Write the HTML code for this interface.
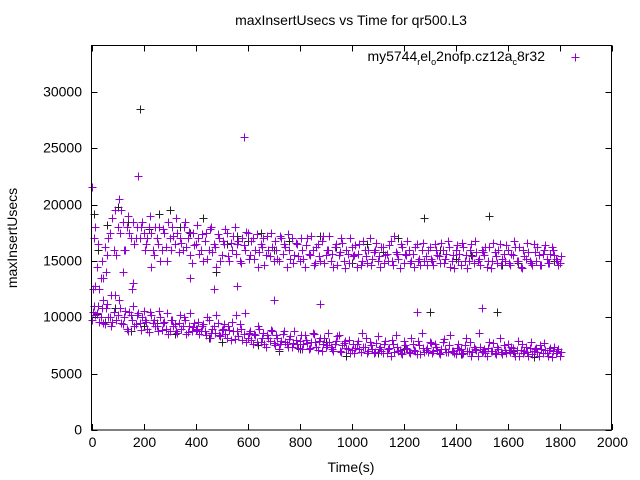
<!DOCTYPE html>
<html><head><meta charset="utf-8"><style>
body{margin:0;background:#fff}
svg{display:block;font-family:"Liberation Sans",sans-serif}
</style></head><body>
<svg id="chart" width="640" height="480" viewBox="0 0 640 480" xmlns="http://www.w3.org/2000/svg">
<text x="351" y="25" font-size="14" text-anchor="middle">maxInsertUsecs vs Time for qr500.L3</text>
<text transform="translate(17,238) rotate(-90)" font-size="14" text-anchor="middle">maxInsertUsecs</text>
<text x="351" y="472" font-size="14" text-anchor="middle">Time(s)</text>
<g id="ticks"></g>
<g id="marks"></g>
<rect x="91.5" y="45.5" width="520" height="384.5" fill="none" stroke="#000" stroke-width="1"/>
<g>
<text x="545" y="61" font-size="14" text-anchor="end">my5744<tspan font-size="9" dy="4">r</tspan><tspan dy="-4">el</tspan><tspan font-size="9" dy="4">o</tspan><tspan dy="-4">2nofp.cz12a</tspan><tspan font-size="9" dy="4">c</tspan><tspan dy="-4">8r32</tspan></text>
<path d="M571.5 57.5h8M575.5 53.5v8" stroke="#9400d3" stroke-width="1"/>
</g>
</svg>
<script>
const xTicks=[0,200,400,600,800,1000,1200,1400,1600,1800,2000];
const yTicks=[0,5000,10000,15000,20000,25000,30000];
const upperY=[21.6,17,14.5,12.5,15,16.2,15.5,17.5,18.8,19.5,18,
17.5,18.5,16,19,17,18.5,17,22.5,18,17.5,
16.5,18,17.5,15.5,17,18,16,17.5,15,17,
18,16.5,17.5,17,16,18.5,17,15.5,17.5,16.5,
17,16,15,17.5,16,18,16.5,14.5,17,15.5,
16.5,17.5,15,16,18,16.5,15,17,16,17.5,
15.5,17,16,14.5,16.5,17,15.5,16,17.5,15,
16,15,17,16.5,14.5,16,17,15.5,16.5,15,
16,14.5,17,15.5,16,14.8,16.5,15,17.2,15.5,
16,15,14.5,16.5,15.5,17,15,16,14.8,16.2,
15.5,14.5,16.5,15,16,14.8,17,15.2,16,15,
14.5,16.2,15.5,15,16.8,14.6,15.8,15.2,16.5,14.8,
15.5,16,15,14.5,16.5,15.2,16,15,14.6,16.2,
15,16.5,15.5,14.8,16,15.2,16.8,14.5,15.5,16,
15,14.6,16.2,15.5,15,16.5,14.8,15.8,15.2,16,
15.5,14.5,16.2,15,15.8,14.8,16.5,15.2,15,16,
14.6,15.5,16.2,15,14.5,16,15.2,15.8,14.8,16.5,
15,15.5,14.6,16,15.2,14.8,16.2,15.5,15,14.8];
const upperY2=[12.5,18,16.5,13.5,11.5,14,17,12,16,15.5,20.5,
19.5,16,18,17.5,12.5,16.5,18,17,18.5,16,
17,19,16,18,16.5,15,17.8,16.2,18.5,16,
17.2,18.8,15.8,16.6,18,16.2,17.6,14.8,16.4,18.2,
15.6,17.4,16.8,15.2,17.8,15.8,16.2,17.4,15,16.8,
17.8,15.4,16.6,17.2,15.6,16.8,14.8,16.4,17.6,15.2,
16.8,15.2,17.4,15.8,16.2,14.6,17.2,15.4,16.2,16.8,
15.2,17.2,15.6,16.2,17.4,15.2,14.8,16.6,15.4,17,
15.2,16.4,15.6,17.2,14.6,16.2,15.4,16.8,14.8,16,
17.2,15.6,16.2,14.6,15.8,16.6,14.4,15.6,17,15.4,
16.4,15.6,14.6,16.8,15.4,16,14.6,15.8,16.6,15.4,
16.2,14.8,15.6,16.4,15,17.2,15.6,14.4,16.2,15.6,
16.8,14.8,15.6,16.2,15,14.6,16.6,15.4,16,15.2,
14.6,16,15.4,16.6,14.8,15.6,16.2,15,14.4,16.4,
15.6,16.6,15,14.4,16,15.4,16.8,15,14.6,15.8,
16.2,15,14.4,16.6,15.4,16,14.6,15.6,16.4,14.8,
15.6,16.8,15,16.2,14.4,15.4,16.6,15,14.6,15.8,
16.2,14.6,15.6,16.4,14.8,15.6,16,15.2,14.6,15.4];
const lowerY=[10.5,10.2,11,10,9.5,10.8,10,9.2,10.5,9.8,11.5,
9.5,10,9,10.5,9.8,9.2,10.2,9.5,10,9.8,
9,10.5,9.5,9.2,8.8,10,9.5,9,8.5,9.8,
9.2,8.8,9.5,9,10,8.5,9.2,8.8,9.5,9,
8.5,9.2,8.8,10,8.2,9,8.6,9.5,8.3,9,
8.5,9.2,8,8.8,10.2,8.3,9,8.5,7.8,8.6,
8,8.5,7.8,9,8.2,7.6,8.4,7.9,8.8,7.5,
8.2,7.6,8.5,7.8,7.4,8.3,7.7,8,7.3,8.4,
7.6,8,7.2,7.8,8.5,7.4,7.9,7,8.2,7.5,
7.8,7.2,7.6,8.3,7,7.5,7.9,7.2,6.8,7.6,
7.3,7.9,6.9,7.4,8.2,7,7.5,6.8,7.7,7.2,
7,7.6,6.8,7.3,8,6.9,7.4,7.1,6.7,7.5,
7.2,6.8,7.6,7,7.9,6.7,7.3,7.1,6.9,7.7,
7,7.4,6.8,7.2,8.1,6.9,7.5,7,6.8,7.3,
7.1,6.7,7.5,7,7.8,6.9,7.2,6.6,7.4,7,
6.8,7.3,7,7.7,6.7,7.2,6.9,7.5,6.8,7.1,
7.4,6.8,7.1,6.6,7.6,7,6.9,7.3,6.7,7.2,
6.9,7.5,6.8,7.1,6.6,7.3,7,6.8,7.2,6.9];
const lowerY2=[9.8,11,10.4,9.6,10.8,9.4,11.2,10,9.6,12,10.2,
10.8,9.4,10.6,8.8,10.2,11,9.4,10.4,8.9,10.6,
9.6,8.7,10.2,9.8,9.2,10.6,8.9,9.6,10.4,8.8,
9.8,9.4,8.6,10.2,9.2,9.8,8.7,10.4,9.1,8.9,
9.6,8.8,9.4,8.4,9.8,8.6,9.2,10.2,8.4,8.9,
9.4,8.2,8.9,9.6,8.1,8.8,9.4,8,10.4,8.2,
8.8,7.6,8.4,9.2,7.8,8.6,7.4,8.2,8.9,7.7,
8.4,7.2,7.9,8.8,7.6,8.1,7.4,8.8,7.6,7.9,
7.2,8.4,7.7,7.3,8.6,7.8,7.1,8.2,7.6,7.4,
8.6,7.4,7,7.9,8.4,6.9,7.7,7.3,8,7.1,
6.8,7.6,7.2,8.6,7.4,6.8,7.8,7.2,6.9,8.3,
7.4,6.8,7.9,7.2,6.6,7.6,8.4,7,6.8,7.9,
7.3,6.9,8.2,7.1,6.7,7.5,8.6,6.9,7.3,7.8,
6.8,7.6,7.1,6.7,7.8,7.2,6.9,8.4,7,6.7,
7.6,7.2,6.8,8.2,7,6.6,7.4,7.1,8.6,6.9,
7.2,6.6,7.8,7,6.8,7.4,8.2,6.7,7.1,7.6,
6.9,7.3,6.6,7.9,7.1,6.8,7.4,6.6,7.8,7,
7.3,6.6,7.2,7.7,6.8,7.1,6.5,7.4,7,6.6];
const purpleExtraX=[585,15,45,75,120,160,230,380,470,560,700,880,1250,1500];
const purpleExtraY=[26,12.8,13.5,12,14,13,14.5,13.5,12.5,12.8,11.5,11.2,10.5,10.8];
const blackX=[10,25,60,100,140,185,220,260,300,340,380,430,480,520,560,600,650,700,760,820,880,940,1000,1060,1120,1180,1280,1340,1400,1460,1530,1580,1640,1700,1780,
20,50,90,150,200,250,320,400,450,500,580,640,720,800,900,980,1100,1200,1300,1420,1560,1620,1700,1760];
const blackY=[19.2,16,18.2,19.8,18.5,28.5,17.8,19.2,19.5,18,17.5,18.8,14,16.5,17.2,16.8,17.5,16,16.8,14.5,17.2,16.2,14.8,16.5,15.8,17,18.8,16,15.2,15.5,19,14.6,14.8,16.5,15,
10.3,9.6,10.8,8.8,9.2,9.5,8.5,9,8.2,7.8,8,7.5,7,7.2,7.8,6.6,6.8,7.2,10.5,6.7,10.5,7,6.5,7.1];
const X0=91.5,X1=611.5,XMAX=2000,Y0=430,PXK=11.27;
function sx(v){return X0+(v/XMAX)*(X1-X0);}
function sy(v){return Y0-(v/1000)*PXK;}
const NS='http://www.w3.org/2000/svg';
const tg=document.getElementById('ticks');
xTicks.forEach(t=>{
 const x=Math.round(sx(t))+0.5;
 const p=document.createElementNS(NS,'path');
 p.setAttribute('d',`M${x} ${Y0}v-6M${x} 45.5v6`);p.setAttribute('stroke','#000');
 
 
 tg.appendChild(p);
 const l=document.createElementNS(NS,'text');
 l.setAttribute('x',x);l.setAttribute('y',447);l.setAttribute('font-size','14');l.setAttribute('text-anchor','middle');
 l.textContent=t;
 
 
 tg.appendChild(l);
});
yTicks.forEach(t=>{
 const y=Math.round(sy(t))+0.5;
 const p=document.createElementNS(NS,'path');
 p.setAttribute('d',`M${X0} ${y}h6M${X1} ${y}h-6`);p.setAttribute('stroke','#000');
 
 
 tg.appendChild(p);
 const l=document.createElementNS(NS,'text');
 l.setAttribute('x',82);l.setAttribute('y',y+4);l.setAttribute('font-size','14');l.setAttribute('text-anchor','end');
 l.textContent=t;
 
 
 tg.appendChild(l);
});
const mg=document.getElementById('marks');
function plus(xv,yk,color,name){
 const x=Math.round(sx(xv))+0.5,y=Math.round(sy(yk*1000))+0.5;
 const p=document.createElementNS(NS,'path');
 p.setAttribute('d',`M${x-4} ${y}h8M${x} ${y-4}v8`);
 p.setAttribute('stroke',color);
 
 
 mg.appendChild(p);
}
blackX.forEach((x,i)=>plus(x,blackY[i],'#222','black-point'));
upperY.forEach((v,i)=>plus(i*10,v,'#9400d3','purple-point'));
upperY2.forEach((v,i)=>plus(i*10+5,v,'#9400d3','purple-point'));
lowerY.forEach((v,i)=>plus(i*10+5,v,'#9400d3','purple-point'));
lowerY2.forEach((v,i)=>plus(i*10,v,'#9400d3','purple-point'));
purpleExtraX.forEach((x,i)=>plus(x,purpleExtraY[i],'#9400d3','purple-point'));
</script>
</body></html>
